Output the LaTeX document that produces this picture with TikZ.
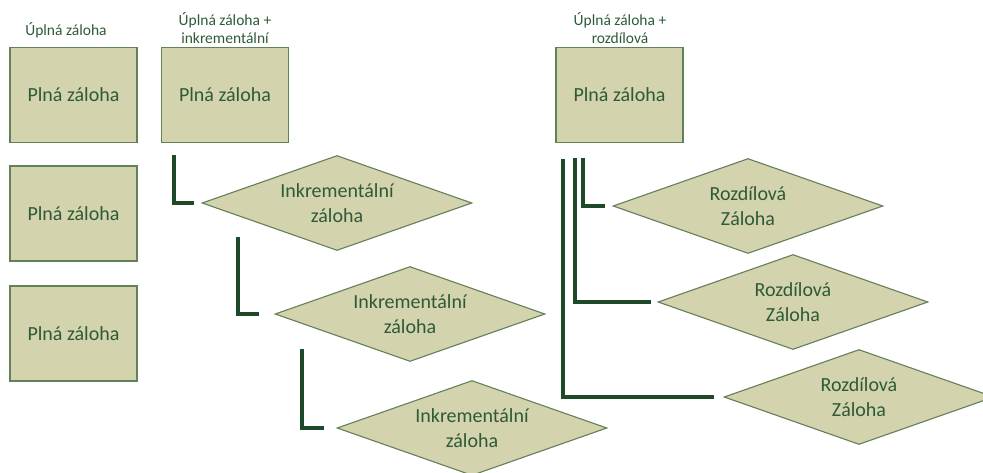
\documentclass[tikz,border=0pt]{standalone}
\usepackage{fontspec}
\setmainfont{Carlito}
\usetikzlibrary{shapes.geometric}

\definecolor{boxfill}{HTML}{D3D3AD}
\definecolor{boxline}{HTML}{62805A}
\definecolor{txtgreen}{HTML}{2E5A37}
\definecolor{linkgreen}{HTML}{1E4A2A}

\tikzset{
  fullbox/.style={draw=boxline, line width=1.1pt, fill=boxfill, rectangle,
    minimum width=127pt, minimum height=95pt, inner sep=0pt,
    text=txtgreen, font=\fontsize{20pt}{24pt}\selectfont},
  partdiamond/.style={draw=boxline, line width=1.1pt, fill=boxfill, diamond,
    aspect=2.84, minimum width=270pt, minimum height=95pt, inner sep=0pt,
    text=txtgreen, align=center, font=\fontsize{20pt}{24.5pt}\selectfont},
  caption/.style={text=txtgreen, align=center, inner sep=0pt,
    font=\fontsize{15.5pt}{18.5pt}\selectfont},
  link/.style={draw=linkgreen, line width=3.2pt}
}

\begin{document}
\begin{tikzpicture}[x=1pt, y=-1pt]
  \useasboundingbox (0,0) rectangle (983,472);
  \clip (0,0) rectangle (983,472);

  % column captions
  \node[caption] (capfull) at (66,30) {Úplná záloha};
  \node[caption] (capinc)  at (225,28) {Úplná záloha +\\inkrementální};
  \node[caption] (capdiff) at (620,28) {Úplná záloha +\\rozdílová};

  % full backups only
  \node[fullbox] (f1) at (73.5,95) {Plná záloha};
  \node[fullbox] (f2) at (73.5,213.5) {Plná záloha};
  \node[fullbox] (f3) at (73.5,333.5) {Plná záloha};

  % full + incremental
  \node[fullbox] (ib) at (225,95) {Plná záloha};
  \node[partdiamond] (i1) at (337,203) {Inkrementální\\záloha};
  \node[partdiamond] (i2) at (410,314) {Inkrementální\\záloha};
  \node[partdiamond] (i3) at (472,428) {Inkrementální\\záloha};

  \coordinate (i1top) at (174,155);
  \coordinate (i2top) at (238,237);
  \coordinate (i3top) at (302,349);
  \draw[link] (i1top) |- ([xshift=-7pt]i1.west);
  \draw[link] (i2top) |- ([xshift=-15pt]i2.west);
  \draw[link] (i3top) |- ([xshift=-12pt]i3.west);

  % full + differential
  \node[fullbox] (db) at (619.5,95) {Plná záloha};
  \node[partdiamond] (d1) at (748,206) {Rozdílová\\Záloha};
  \node[partdiamond] (d2) at (793,302) {Rozdílová\\Záloha};
  \node[partdiamond] (d3) at (859,397) {Rozdílová\\Záloha};

  \coordinate (d1top) at (583,158);
  \coordinate (d2top) at (575,158);
  \coordinate (d3top) at (563,159);
  \draw[link] (d1top) |- ([xshift=-7pt]d1.west);
  \draw[link] (d2top) |- ([xshift=-6pt]d2.west);
  \draw[link] (d3top) |- ([xshift=-9pt]d3.west);
\end{tikzpicture}
\end{document}
